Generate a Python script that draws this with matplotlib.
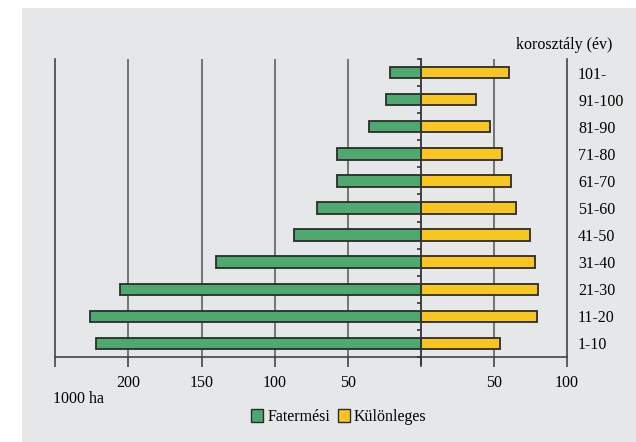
import matplotlib
matplotlib.use("Agg")
import matplotlib.pyplot as plt
from matplotlib.patches import Rectangle, Patch
import numpy as np

categories = ["1-10", "11-20", "21-30", "31-40", "41-50", "51-60",
              "61-70", "71-80", "81-90", "91-100", "101-"]
fatermesi = [222, 226, 206, 140, 87, 71, 57, 57, 35.5, 23.5, 21]
kulonleges = [54.5, 79.5, 80.5, 78, 74.5, 65, 61.5, 55.5, 47, 38, 60.5]
left_ticks = [-200, -150, -100, -50]
right_ticks = [50, 100]
tick_labels = ["200", "150", "100", "50", "50", "100"]

GREEN = "#4ea96f"
YELLOW = "#f9c61f"
EDGE = "#2b2b2b"
BG = "#e6e7e9"
GRID = "#606060"

plt.rcParams['font.family'] = ['Liberation Serif', 'DejaVu Serif']

fig = plt.figure(figsize=(6.36, 4.42), dpi=100)
fig.patches.append(Rectangle((22/636, 0), 1, 1 - 8/442, transform=fig.transFigure,
                             facecolor=BG, edgecolor='none', zorder=-10))

W, H = 636, 442
x0, x1 = 55.3, 567.0
y0, y1 = 59.0, 357.0
ax = fig.add_axes([x0/W, 1 - y1/H, (x1 - x0)/W, (y1 - y0)/H])
ax.set_facecolor('none')

y = np.arange(len(categories))
h = 0.42
ax.barh(y, [-v for v in fatermesi], height=h, color=GREEN, edgecolor=EDGE,
        linewidth=1.3, zorder=3)
ax.barh(y, kulonleges, height=h, color=YELLOW, edgecolor=EDGE,
        linewidth=1.3, zorder=3)

ax.set_xlim(-250, 100)
ax.set_ylim(-0.5, len(categories) - 0.5)

# vertical gridlines
for xv in left_ticks + [50]:
    ax.axvline(xv, color=GRID, linewidth=1.2, zorder=1)
# centre line
ax.axvline(0, ymin=-0.025, ymax=1, color="#333333", linewidth=1.3, zorder=4,
           clip_on=False)
# small ticks on centre line at category boundaries
bounds = np.arange(len(categories) + 1) - 0.5
ax.hlines(bounds, -2.6, 0, color="#333333", linewidth=1.2, zorder=4, clip_on=False)

for s in ['top']:
    ax.spines[s].set_visible(False)
for s in ['left', 'right', 'bottom']:
    ax.spines[s].set_color("#444444")
    ax.spines[s].set_linewidth(1.2)

ax.set_xticks([-250] + left_ticks + [0] + right_ticks)
ax.set_xticklabels([""] + tick_labels[:4] + [""] + tick_labels[4:], fontsize=11.5)
ax.tick_params(axis='x', direction='out', length=7, width=1.2, color="#444444",
               pad=6)

ax.yaxis.tick_right()
ax.set_yticks(y)
ax.set_yticklabels(categories, fontsize=11.5)
ax.tick_params(axis='y', length=0, pad=8)

fig.text(612/W, 1 - 45/H, "korosztály (év)", ha='right', va='center', fontsize=11.5)
fig.text(53/W, 1 - 399/H, "1000 ha", ha='left', va='center', fontsize=11.5)

handles = [Patch(facecolor=GREEN, edgecolor=EDGE, linewidth=1.0),
           Patch(facecolor=YELLOW, edgecolor=EDGE, linewidth=1.0)]
fig.legend(handles, ["Fatermési", "Különleges"], loc='center',
           bbox_to_anchor=(339/W, 1 - 417/H), ncol=2, frameon=False,
           fontsize=11.5, handlelength=0.75, handleheight=0.9,
           handletextpad=0.25, columnspacing=0.5)

fig.savefig("out.png", dpi=100)
